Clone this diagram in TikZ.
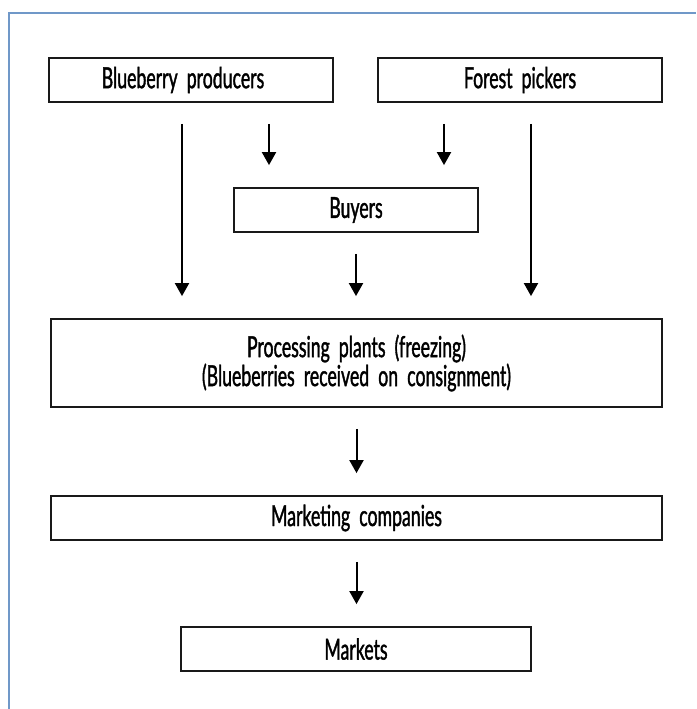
\documentclass[tikz,border=0pt]{standalone}
\usepackage{fontspec}
\setmainfont{Lato}[FakeStretch=0.61, FakeBold=1.3, WordSpace=2.0]
\usetikzlibrary{arrows.meta}
\definecolor{frameblue}{RGB}{112,152,200}
\tikzset{
  box/.style={draw=black!90, line width=1.8pt, rectangle, inner sep=0pt, minimum height=44pt, align=center,
    font=\fontsize{29}{29}\selectfont},
  arr/.style={line width=2pt, -{Triangle[width=14pt,length=13pt]}, shorten <=21pt, shorten >=22pt},
  frame/.style={draw=frameblue, line width=2.5pt}
}
\begin{document}
\begin{tikzpicture}[x=1pt,y=-1pt]
\useasboundingbox (0,0) rectangle (696,709);
\draw[frame] (9,709) -- (9,13) -- (696,13);
\node[box, minimum width=284pt] (bp) at (191,80) {Blueberry producers\hspace*{16pt}};
\node[box, minimum width=284pt] (fp) at (520,80) {Forest pickers};
\node[box, minimum width=244pt] (buy) at (356,210) {Buyers};
\node[box, minimum width=611pt, minimum height=88pt] (proc) at (356.5,363) {Processing plants (freezing)\\(Blueberries received on consignment)};
\node[box, minimum width=611pt] (mkt) at (356.5,518) {Marketing companies};
\node[box, minimum width=350pt] (mks) at (356,649) {Markets};
\draw[arr] ([xshift=-9pt]bp.south) -- ([xshift=-9pt]bp.south |- proc.north);
\draw[arr] ([xshift=78pt]bp.south) -- ([xshift=78pt]bp.south |- buy.north);
\draw[arr] ([xshift=-76pt]fp.south) -- ([xshift=-76pt]fp.south |- buy.north);
\draw[arr] ([xshift=11pt]fp.south) -- ([xshift=11pt]fp.south |- proc.north);
\draw[arr] (buy.south) -- (buy.south |- proc.north);
\draw[arr] (proc.south) -- (proc.south |- mkt.north);
\draw[arr] (mkt.south) -- (mkt.south |- mks.north);
\end{tikzpicture}
\end{document}
